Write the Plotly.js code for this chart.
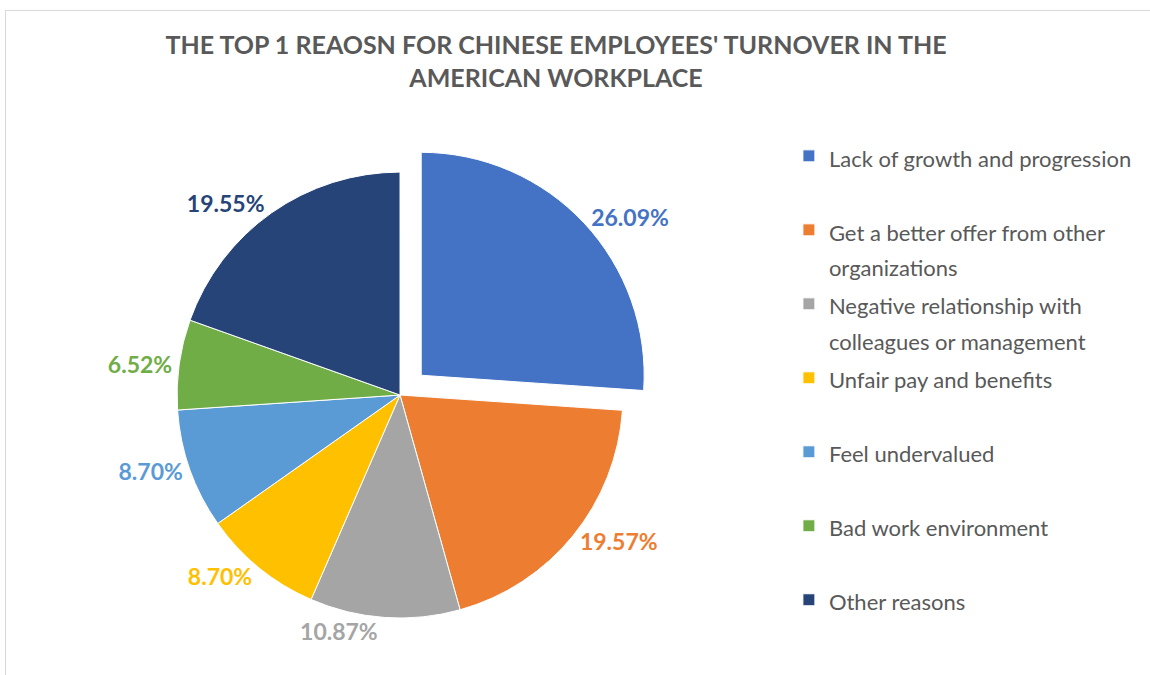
<!DOCTYPE html>
<html>
<head>
<meta charset="utf-8">
<script src="https://cdn.plot.ly/plotly-3.0.1.min.js"></script>
<style>
  html, body { margin: 0; padding: 0; background: #fff; }
  #wrap { position: relative; width: 1150px; height: 675px; overflow: hidden; }
  #chart { position: absolute; left: 0; top: 0; width: 1150px; height: 675px; }
  #frame { position: absolute; left: 5px; top: 10px; width: 1200px; height: 700px;
           border: 1px solid #d9d9d9; pointer-events: none; box-sizing: border-box; }
</style>
</head>
<body>
<div id="wrap">
  <div id="chart"></div>
  <div id="frame"></div>
</div>
<script>
const categories = [
  "Lack of growth and progression",
  "Get a better offer from other<br>organizations",
  "Negative relationship with<br>colleagues or management",
  "Unfair pay and benefits",
  "Feel undervalued",
  "Bad work environment",
  "Other reasons"
];
const percentages = [26.09, 19.57, 10.87, 8.70, 8.70, 6.52, 19.55];
const colors = ["#4472C4", "#ED7D31", "#A5A5A5", "#FFC000", "#5B9BD5", "#70AD47", "#264478"];
const chartTitle = "THE TOP 1 REAOSN FOR CHINESE EMPLOYEES' TURNOVER IN THE<br>AMERICAN WORKPLACE";

// pad every legend entry to two lines so entries are evenly spaced
const legendLabels = categories.map(c => {
  const n = c.split("<br>").length;
  let s = c;
  for (let i = n; i < 2; i++) s += "<br> ";
  return '<span style="font-size:22px">' + s.split("<br>").join('</span><br><span style="font-size:22px">') + '</span>';
});

const trace = {
  type: "pie",
  labels: legendLabels,
  values: percentages,
  sort: false,
  direction: "clockwise",
  rotation: 0,
  pull: [0.13, 0, 0, 0, 0, 0, 0],
  marker: { colors: colors, line: { color: "#ffffff", width: 1 } },
  textposition: "outside",
  texttemplate: "%{value:.2f}%",
  textfont: { family: "Lato, 'Open Sans', sans-serif", size: 23, color: colors, weight: "bold" },
  hoverinfo: "label+value",
  domain: { x: [0.1287, 0.5670], y: [0.0415, 0.788] },
  automargin: false
};

const layout = {
  width: 1150,
  height: 675,
  margin: { l: 0, r: 0, t: 0, b: 0 },
  paper_bgcolor: "#ffffff",
  plot_bgcolor: "#ffffff",
  font: { family: "Lato, 'Open Sans', sans-serif", color: "#595959" },
  title: {
    text: "<b>" + chartTitle + "</b>",
    font: { family: "Lato, 'Open Sans', sans-serif", size: 25, color: "#595959" },
    x: 0.4835, xanchor: "center",
    y: 0.92, yanchor: "top",
    xref: "paper", yref: "paper"
  },
  showlegend: true,
  legend: {
    x: 0.686, xanchor: "left",
    y: 0.805, yanchor: "top",
    valign: "top",
    font: { family: "Lato, 'Open Sans', sans-serif", size: 27.3, color: "#595959" },
    bgcolor: "rgba(0,0,0,0)",
    itemclick: false, itemdoubleclick: false
  }
};

Plotly.newPlot("chart", [trace], layout, { displayModeBar: false, staticPlot: true });
</script>
</body>
</html>
